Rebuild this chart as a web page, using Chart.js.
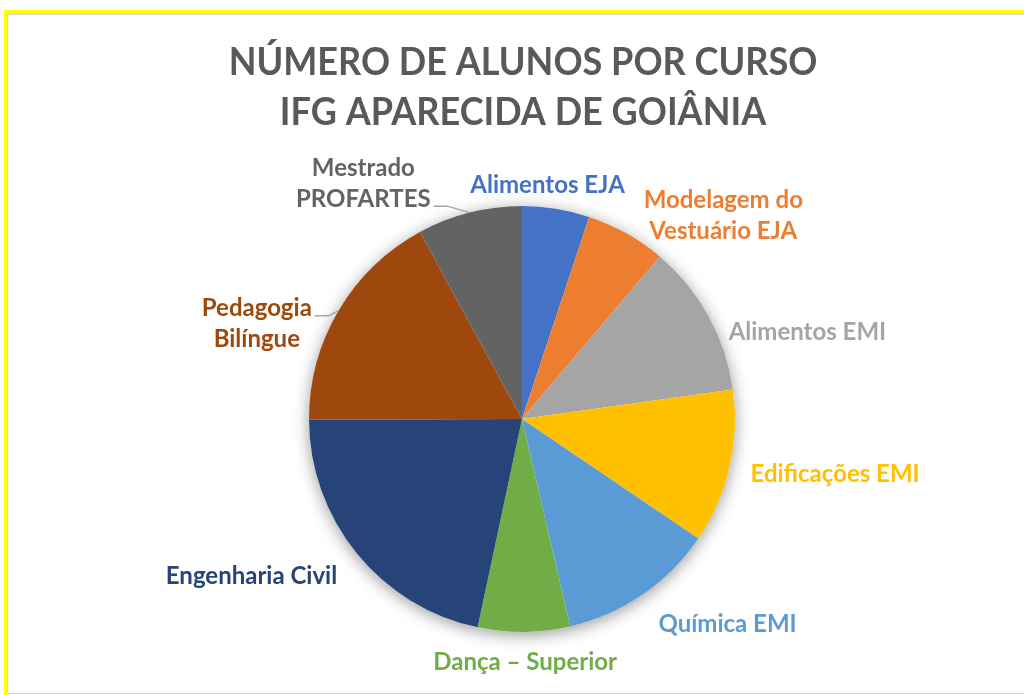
<!DOCTYPE html>
<html>
<head>
<meta charset="utf-8">
<script src="https://cdn.jsdelivr.net/npm/chart.js@4"></script>
<style>
  html, body { margin:0; padding:0; background:#ffffff; width:1024px; height:695px; overflow:hidden; }
  #wrap { position:absolute; left:0; top:0; width:1024px; height:695px; }
  #frameY { position:absolute; left:4px; top:10px; right:0; bottom:0; border-top:4px solid #ffff00; border-left:3px solid #ffff00; }
  #frameG { position:absolute; left:7px; top:14px; right:0; bottom:1px; border-top:1px solid #d9d9d9; border-left:1px solid #d9d9d9; border-bottom:1px solid #d9d9d9; }
  canvas { position:absolute; left:0; top:0; }
</style>
</head>
<body>
<div id="wrap">
  <div id="frameY"></div>
  <div id="frameG"></div>
  <canvas id="c" width="1024" height="695"></canvas>
</div>
<script>
const titleLines = ["NÚMERO DE ALUNOS POR CURSO", "IFG APARECIDA DE GOIÂNIA"];
const categories = [
  ["Alimentos EJA"],
  ["Modelagem do", "Vestuário EJA"],
  ["Alimentos EMI"],
  ["Edificações EMI"],
  ["Química EMI"],
  ["Dança – Superior"],
  ["Engenharia Civil"],
  ["Pedagogia", "Bilíngue"],
  ["Mestrado", "PROFARTES"]
];
const students = [52, 62, 118, 119, 121, 71, 220, 174, 81];
const sliceColors = ["#4472C4", "#ED7D31", "#A5A5A5", "#FFC000", "#5B9BD5", "#70AD47", "#264478", "#9E480E", "#636363"];

// label placement (relative to pie centre, in units of radius); leader line attaches to line index (-1 = none)
const labelPos = [
  [0.12, -1.095], [0.945, -0.955], [1.34, -0.405], [1.47, 0.26], [0.965, 0.965],
  [0.015, 1.14], [-1.27, 0.74], [-1.245, -0.445], [-0.745, -1.105]
];
const leaderLine = [-1, -1, -1, -1, -1, -1, -1, 0, 1];

const FONT = "Lato, 'Open Sans', sans-serif";

const decor = {
  id: 'decor',
  beforeDatasetsDraw(chart) {
    const arc = chart.getDatasetMeta(0).data[0];
    const ctx = chart.ctx;
    ctx.save();
    ctx.beginPath();
    ctx.arc(arc.x, arc.y, arc.outerRadius, 0, Math.PI * 2);
    ctx.fillStyle = '#ffffff';
    ctx.shadowColor = 'rgba(0,0,0,0.4)';
    ctx.shadowBlur = 16;
    ctx.shadowOffsetY = 3;
    ctx.fill();
    ctx.restore();
  },
  afterDatasetsDraw(chart) {
    const ctx = chart.ctx;
    const meta = chart.getDatasetMeta(0);
    const a0 = meta.data[0];
    const cx = a0.x, cy = a0.y, r = a0.outerRadius;
    ctx.save();
    // title
    ctx.fillStyle = '#595959';
    ctx.font = "bold 39px " + FONT;
    ctx.textAlign = 'center';
    ctx.textBaseline = 'middle';
    titleLines.forEach((t, i) => {
      ctx.save();
      ctx.translate(523, 62 + i * 50);
      ctx.scale(0.925, 1);
      ctx.fillText(t, 0, 0);
      ctx.restore();
    });
    // labels
    ctx.font = "bold 24px " + FONT;
    meta.data.forEach((arc, i) => {
      const lines = categories[i];
      const lx = cx + labelPos[i][0] * r;
      const ly = cy + labelPos[i][1] * r;
      const lh = 31;
      const top = ly - (lines.length - 1) * lh / 2;
      const k = leaderLine[i];
      if (k >= 0) {
        const mid = (arc.startAngle + arc.endAngle) / 2;
        const ex = cx + Math.cos(mid) * r, ey = cy + Math.sin(mid) * r;
        const y = top + k * lh + 7;
        const w = ctx.measureText(lines[k]).width;
        const sx = lx + w / 2 + 3;
        ctx.beginPath();
        ctx.moveTo(sx, y);
        ctx.lineTo(sx + 14, y);
        ctx.lineTo(ex, ey);
        ctx.strokeStyle = '#A6A6A6';
        ctx.lineWidth = 1.5;
        ctx.stroke();
      }
      ctx.fillStyle = sliceColors[i];
      lines.forEach((t, j) => ctx.fillText(t, lx, top + j * lh));
    });
    ctx.restore();
  }
};

new Chart(document.getElementById('c'), {
  type: 'pie',
  data: {
    labels: categories.map(l => l.join(' ')),
    datasets: [{ data: students, backgroundColor: sliceColors, borderWidth: 0, hoverOffset: 0 }]
  },
  options: {
    responsive: false,
    animation: false,
    events: [],
    layout: { padding: { left: 20, right: 0, top: 206, bottom: 63 } },
    plugins: { legend: { display: false }, tooltip: { enabled: false }, title: { display: false } }
  },
  plugins: [decor]
});
</script>
</body>
</html>
